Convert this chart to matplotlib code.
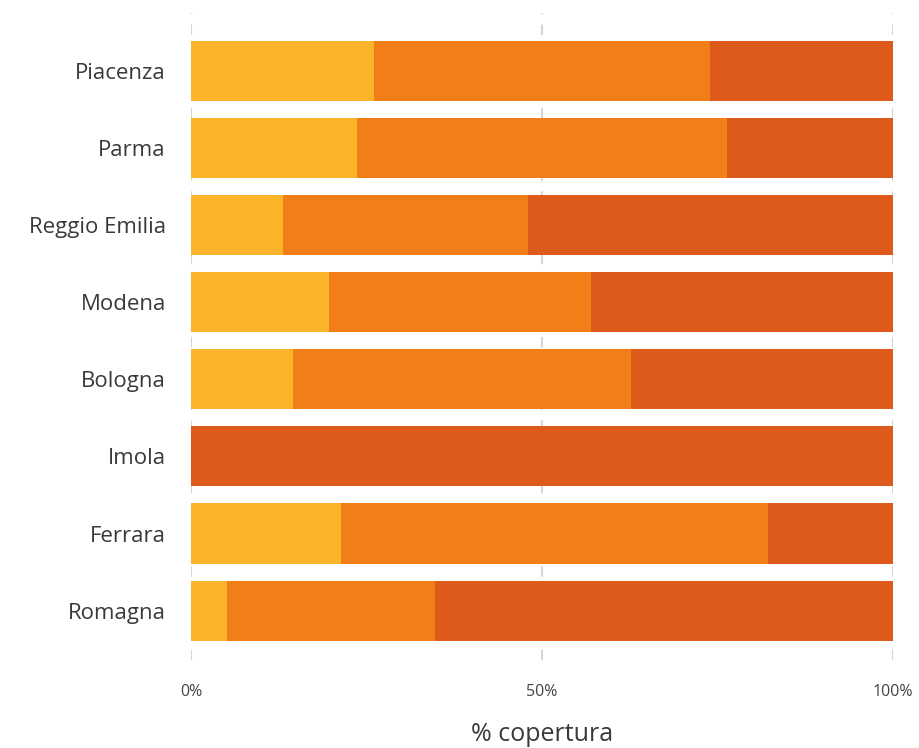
import numpy as np
import matplotlib.pyplot as plt
from matplotlib.ticker import FuncFormatter

plt.rcParams['font.family'] = ['Open Sans', 'DejaVu Sans']

provinces = ['Piacenza', 'Parma', 'Reggio Emilia', 'Modena', 'Bologna', 'Imola', 'Ferrara', 'Romagna']
# share of coverage per level (%)
low = [26.1, 23.6, 13.1, 19.7, 14.5, 0.0, 21.4, 5.1]
mid = [47.8, 52.8, 34.9, 37.3, 48.2, 0.0, 60.8, 29.7]
high = [26.1, 23.6, 52.0, 43.0, 37.3, 100.0, 17.8, 65.2]
ticks = [0, 50, 100]

colors = ['#FBB52A', '#F27E18', '#DD5A1A']

fig = plt.figure(figsize=(9.19, 7.48), dpi=100)
ax = fig.add_axes([191/919, 88/748, 702/919, 647/748])

y = np.arange(len(provinces))
left = np.zeros(len(provinces))
for vals, c in zip([low, mid, high], colors):
    ax.barh(y, vals, left=left, height=0.78, color=c, zorder=2)
    left += np.array(vals)

ax.set_xlim(0, 100)
ax.set_ylim(7.64, -0.75)
ax.set_yticks(y)
ax.set_yticklabels(provinces, fontsize=16, color='#3a3a3a')
ax.set_xticks(ticks)
ax.xaxis.set_major_formatter(FuncFormatter(lambda v, p: '%d%%' % v))
ax.tick_params(axis='x', labelsize=11.5, labelcolor='#444444', length=0, pad=17)
ax.tick_params(axis='y', length=0, pad=18)
ax.set_xlabel('% copertura', fontsize=18, color='#3a3a3a', labelpad=16)
for s in ax.spines.values():
    s.set_visible(False)
ax.grid(axis='x', color='#d5d5d5', linestyle=(0, (5, 5)), linewidth=1.5, zorder=0)
ax.grid(axis='y', visible=False)

plt.savefig('out.png', dpi=100)
plt.close()
